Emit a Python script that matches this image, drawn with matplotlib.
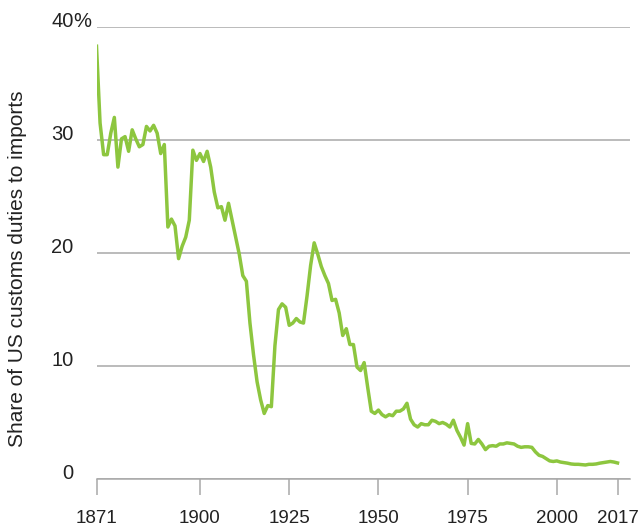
import numpy as np
import matplotlib.pyplot as plt
import matplotlib.transforms as mtransforms

plt.rcParams['font.family'] = ['Liberation Sans', 'DejaVu Sans']

# share of US customs duties to imports, %, one value per year 1871-2017
years = np.arange(1871, 2018)
share = [
    38.3, 31.5, 28.7, 28.7, 30.6, 32.0, 27.6, 30.1, 30.3,            # 1871-1879
    29.0, 30.9, 30.1, 29.4, 29.6, 31.2, 30.8, 31.3, 30.6, 28.8,      # 1880s
    29.6, 22.3, 23.0, 22.4, 19.5, 20.6, 21.4, 22.9, 29.1, 28.2,      # 1890s
    28.8, 28.1, 29.0, 27.6, 25.4, 24.0, 24.1, 22.9, 24.4, 22.9,      # 1900s
    21.4, 19.9, 18.0, 17.5, 13.8, 11.0, 8.6, 7.0, 5.8, 6.5,          # 1910s
    6.4, 11.8, 15.0, 15.5, 15.2, 13.6, 13.8, 14.2, 13.9, 13.8,       # 1920s
    16.2, 18.9, 20.9, 19.9, 18.8, 18.0, 17.3, 15.8, 15.9, 14.7,      # 1930s
    12.7, 13.3, 11.9, 11.9, 9.9, 9.6, 10.3, 8.1, 6.0, 5.8,           # 1940s
    6.1, 5.7, 5.5, 5.7, 5.6, 6.0, 6.0, 6.2, 6.7, 5.3,                # 1950s
    4.8, 4.6, 4.9, 4.8, 4.8, 5.2, 5.1, 4.9, 5.0, 4.85,               # 1960s
    4.6, 5.2, 4.3, 3.7, 3.0, 4.9, 3.15, 3.1, 3.5, 3.1,               # 1970s
    2.6, 2.9, 2.95, 2.9, 3.1, 3.1, 3.2, 3.15, 3.1, 2.9,              # 1980s
    2.8, 2.85, 2.85, 2.8, 2.4, 2.1, 2.0, 1.8, 1.6, 1.55,             # 1990s
    1.6, 1.5, 1.45, 1.4, 1.33, 1.3, 1.3, 1.27, 1.24, 1.3,            # 2000s
    1.3, 1.33, 1.4, 1.45, 1.5, 1.55, 1.5, 1.42,                      # 2010-2017
]

xticks = [1871, 1900, 1925, 1950, 1975, 2000, 2017]
yticks = [0, 10, 20, 30, 40]
ylabel = 'Share of US customs duties to imports'

grey = '#a8a8a8'
green = '#8dc63f'

fig = plt.figure(figsize=(6.43, 5.28), dpi=100)
ax = fig.add_axes([96.5 / 643, 1 - 479 / 528, 533.5 / 643, 452 / 528])

ax.plot(years, share, color=green, lw=2.5, solid_joinstyle='round', zorder=3)

ax.set_xlim(1871, 2020.5)
ax.set_ylim(0, 40)

for s in ['top', 'right', 'left']:
    ax.spines[s].set_visible(False)
ax.spines['bottom'].set_color(grey)
ax.spines['bottom'].set_linewidth(1.1)

ax.set_yticks(yticks)
ax.set_yticklabels([str(v) for v in yticks])
ax.yaxis.grid(True, color=grey, lw=1.1)
ax.tick_params(axis='y', length=0, pad=16.5, labelsize=14.5, labelcolor='#222222')
for lab in ax.get_yticklabels():
    lab.set_verticalalignment('baseline')

ax.set_xticks(xticks)
ax.set_xticklabels([str(v) for v in xticks])
ax.tick_params(axis='x', direction='out', length=11.5, width=1.1, color=grey,
               pad=11, labelsize=13.5, labelcolor='#222222')

trans = mtransforms.blended_transform_factory(ax.transAxes, ax.transData)
ax.text((73.5 - 96.5) / 533.5, 40, '%', transform=trans, ha='left', va='baseline',
        fontsize=14.5, color='#222222')

fig.text(18 / 643, 1 - 269 / 528, ylabel, rotation=90, ha='center', va='center',
         fontsize=15, color='#222222')

fig.savefig('out.png', dpi=100)
